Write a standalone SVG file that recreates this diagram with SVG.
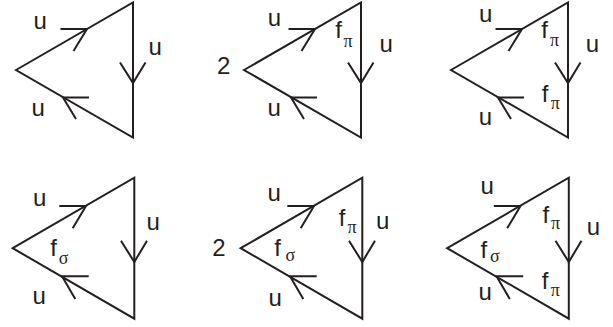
<svg xmlns="http://www.w3.org/2000/svg" width="613" height="327" viewBox="0 0 613 327">
<style>
.l{fill:none;stroke:#231f20;stroke-width:2;stroke-linejoin:miter;stroke-linecap:butt}
text{font-family:"Liberation Sans",Arial,sans-serif;fill:#231f20;font-size:24px}
.s{font-family:"Liberation Serif","DejaVu Serif",serif;font-size:18px}
</style>
<defs>
<g id="top"><path class="l" d="M16 70L133 2.500V137.500Z"/><path class="l" d="M60.500 29H87L73.500 51M120 62.500L133 83L145.500 62.500M89 97.500H63L76 119"/></g>
<g id="bot"><path class="l" d="M12.700 248.200L134.300 177.700V318.700Z"/><path class="l" d="M59.300 206H86L72.700 228.300M121 240.700L134.300 262L147 240.700M88.700 276.300H62L75.300 299"/></g>
</defs>
<g id="connectors">
<use href="#top"/><use href="#top" x="228"/><use href="#top" x="435"/>
<use href="#bot"/><use href="#bot" x="228"/><use href="#bot" x="434.500"/>
</g>
<g id="n1"><text x="33.400" y="29.300">u</text><text x="148.400" y="55">u</text><text x="31.400" y="116">u</text></g>
<g id="n2"><text x="267.700" y="26">u</text><text x="379.400" y="51.700">u</text><text x="267.400" y="116.300">u</text><text x="217" y="73.700">2</text><text x="335.200" y="38">f</text><text class="s" x="343.500" y="47">π</text></g>
<g id="n3"><text x="479.100" y="22">u</text><text x="585.700" y="52">u</text><text x="478.700" y="125.300">u</text><text x="541.200" y="38">f</text><text class="s" x="550" y="45.700">π</text><text x="541.800" y="102.300">f</text><text class="s" x="550.700" y="109.300">π</text></g>
<g id="n4"><text x="33.100" y="205.700">u</text><text x="146.400" y="230.300">u</text><text x="32.400" y="304.300">u</text><text x="50.200" y="256.300">f</text><text class="s" x="58.700" y="263.700">σ</text></g>
<g id="n5"><text x="267.400" y="201">u</text><text x="376.100" y="228.700">u</text><text x="268.400" y="305.700">u</text><text x="212.300" y="256.300">2</text><text x="274.200" y="256.300">f</text><text class="s" x="285.400" y="261.300">σ</text><text x="338.800" y="226.300">f</text><text class="s" x="347.400" y="233">π</text></g>
<g id="n6"><text x="480.400" y="193.700">u</text><text x="586.700" y="234.700">u</text><text x="478.400" y="299.700">u</text><text x="480.500" y="257.700">f</text><text class="s" x="490" y="261.700">σ</text><text x="542.500" y="222.700">f</text><text class="s" x="551" y="229">π</text><text x="541.800" y="289">f</text><text class="s" x="550.700" y="296.300">π</text></g>
</svg>
